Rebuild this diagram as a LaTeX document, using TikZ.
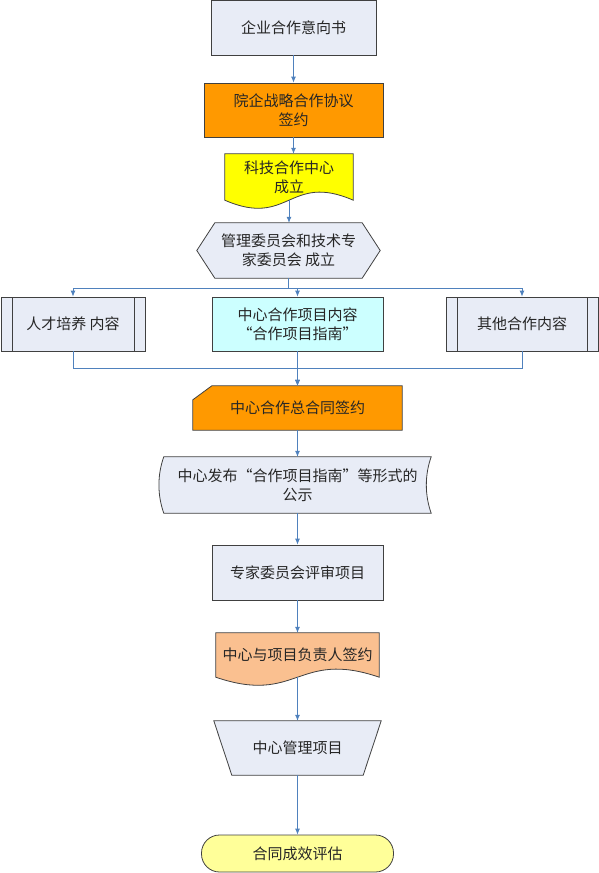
\documentclass[tikz,border=0pt]{standalone}
\usepackage{fontspec}
\setmainfont{Noto Sans CJK SC}
\usetikzlibrary{arrows.meta,backgrounds}
\definecolor{edgegray}{HTML}{404040}
\definecolor{flowblue}{HTML}{4F81BD}
\definecolor{paleblue}{HTML}{E8ECF6}
\definecolor{orangefill}{HTML}{FF9900}
\definecolor{yellowfill}{HTML}{FFFF00}
\definecolor{cyanfill}{HTML}{CCFFFF}
\definecolor{peachfill}{HTML}{FAC090}
\definecolor{lightyellow}{HTML}{FFFF99}
\tikzset{
  textonly/.style={inner sep=0pt, align=center, font=\fontsize{15}{19}\selectfont, text=black!85},
  box/.style={textonly, draw=edgegray, line width=0.8pt},
  outline/.style={draw=edgegray, line width=0.8pt},
  sideline/.style={path picture={
    \draw[edgegray, line width=0.8pt] ([xshift=11pt]path picture bounding box.north west) -- ([xshift=11pt]path picture bounding box.south west);
    \draw[edgegray, line width=0.8pt] ([xshift=-11pt]path picture bounding box.north east) -- ([xshift=-11pt]path picture bounding box.south east);
  }},
  flow/.style={draw=flowblue, line width=0.8pt, -{Latex[length=6pt,width=5pt]}}
}
\begin{document}
\begin{tikzpicture}[x=1pt, y=-1pt]
\useasboundingbox (0,0) rectangle (599,873);
\node[box, fill=paleblue, minimum width=165pt, minimum height=54.5pt] (intent) at (293.5,27.75) {企业合作意向书};
\node[box, fill=orangefill, minimum width=179pt, minimum height=54pt] (accord) at (293.5,110) {院企战略合作协议\\签约};
\node[textonly, minimum width=128pt, minimum height=46pt] (hub) at (289,177) {科技合作中心\\成立};
\node[textonly, minimum width=183pt, minimum height=55pt] (committee) at (288.5,250.5) {管理委员会和技术专\\家委员会 成立};
\node[box, sideline, fill=paleblue, minimum width=144pt, minimum height=54pt] (talent) at (73,324) {人才培养 内容};
\node[box, fill=cyanfill, minimum width=171pt, minimum height=54pt] (guide) at (297.5,324) {中心合作项目内容\\“合作项目指南”};
\node[box, sideline, fill=paleblue, minimum width=152pt, minimum height=54pt] (other) at (522,324) {其他合作内容};
\node[textonly, minimum width=209pt, minimum height=44pt] (contract) at (297.5,408) {中心合作总合同签约};
\node[textonly, minimum width=267pt, minimum height=56pt] (publish) at (297.5,485) {中心发布“合作项目指南”等形式的\\公示};
\node[box, fill=paleblue, minimum width=171pt, minimum height=55pt] (review) at (297.5,572.5) {专家委员会评审项目};
\node[textonly, minimum width=163pt, minimum height=44pt] (sign) at (297.5,655) {中心与项目负责人签约};
\node[textonly, minimum width=167pt, minimum height=54pt] (manage) at (297.5,748) {中心管理项目};
\node[box, fill=lightyellow, rounded corners=18pt, minimum width=192pt, minimum height=37pt] (evaluate) at (297.5,853.5) {合同成效评估};
\begin{pgfonlayer}{background}
\filldraw[outline, fill=yellowfill] (hub.south west) -- (hub.north west) -- (hub.north east) -- (hub.south east) .. controls ([yshift=28pt]hub.south) and ([yshift=-28pt]hub.south) .. (hub.south west) -- cycle;
\filldraw[outline, fill=paleblue] (committee.west) -- ([xshift=18pt]committee.north west) -- ([xshift=-18pt]committee.north east) -- (committee.east) -- ([xshift=-18pt]committee.south east) -- ([xshift=18pt]committee.south west) -- cycle;
\filldraw[outline, fill=orangefill] ([yshift=-14pt]contract.north west) -- ([xshift=19pt]contract.north west) -- (contract.north east) -- (contract.south east) -- (contract.south west) -- cycle;
\filldraw[outline, fill=paleblue] (publish.north west) -- (publish.north east) .. controls +(-6.5,18) and +(-6.5,-18) .. (publish.south east) -- (publish.south west) .. controls +(-6.5,-18) and +(-6.5,18) .. (publish.north west) -- cycle;
\filldraw[outline, fill=peachfill] (sign.south west) -- (sign.north west) -- (sign.north east) -- (sign.south east) .. controls ([yshift=28pt]sign.south) and ([yshift=-28pt]sign.south) .. (sign.south west) -- cycle;
\filldraw[outline, fill=paleblue] (manage.north west) -- (manage.north east) -- ([xshift=-18pt]manage.south east) -- ([xshift=18pt]manage.south west) -- cycle;
\end{pgfonlayer}
\draw[flow] (intent) -- (accord);
\draw[flow] (accord) -- (accord |- hub.north);
\draw[flow] (hub) -- (hub |- committee.north);
\draw[flow] (committee.south) -- ++(0,10) -| (talent.north);
\draw[flow] (committee.south) -- ++(0,10) -| (guide.north);
\draw[flow] (committee.south) -- ++(0,10) -| (other.north);
\draw[flow] (talent.south) -- ++(0,17) -| (contract.north);
\draw[flow] (other.south) -- ++(0,17) -| (contract.north);
\draw[flow] (guide) -- (contract);
\draw[flow] (contract) -- (publish);
\draw[flow] (publish) -- (review);
\draw[flow] (review) -- (sign);
\draw[flow] (sign) -- (manage);
\draw[flow] (manage) -- (evaluate);
\end{tikzpicture}
\end{document}
